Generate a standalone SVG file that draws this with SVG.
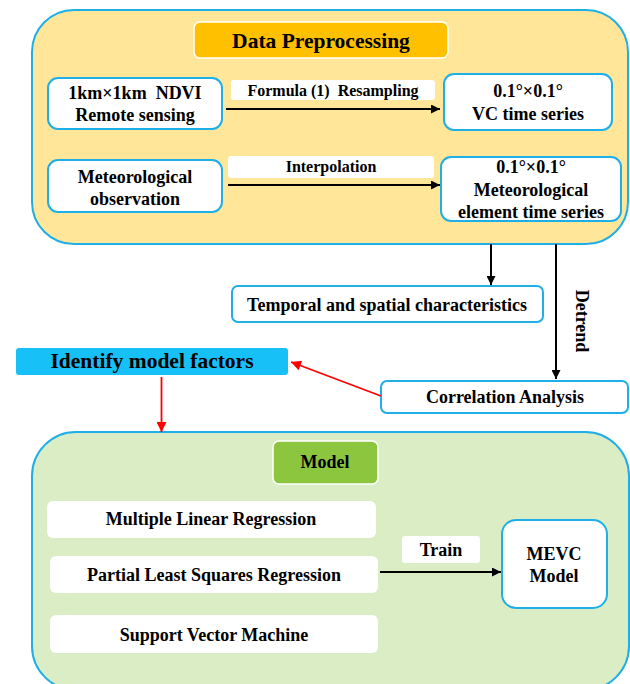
<svg xmlns="http://www.w3.org/2000/svg" width="630" height="684" viewBox="0 0 630 684">
<defs>
<marker id="ab" viewBox="0 0 10 10" refX="10" refY="5" markerWidth="10" markerHeight="9" markerUnits="userSpaceOnUse" orient="auto"><path d="M0,0 L10,5 L0,10 z" fill="#000"/></marker>
<marker id="ar" viewBox="0 0 10 10" refX="10" refY="5" markerWidth="11" markerHeight="10" markerUnits="userSpaceOnUse" orient="auto"><path d="M0,0 L10,5 L0,10 z" fill="#FF0000"/></marker>
<style>
.t{font-family:"Liberation Serif","Times New Roman",serif;font-weight:bold;fill:#000;text-anchor:middle}
.n{font-size:18px}
.l{font-size:16px;white-space:pre}
.h{font-size:21.5px}
.box{fill:#fff;stroke:#1EAEE8;stroke-width:2}
.lab{fill:#fff;stroke:none}
.c{stroke:#000;stroke-width:2;fill:none}
.r{stroke:#FF0000;stroke-width:1.8;fill:none}
</style>
</defs>

<g id="preprocessing">
<rect x="32" y="10" width="596" height="234" rx="42" fill="#FFE699" stroke="#1EAEE8" stroke-width="2"/>
</g>
<g id="data-preprocessing-title">
<rect x="194" y="22" width="254" height="36" rx="6" fill="#FFC000" stroke="#fff" stroke-width="1.5"/>
<text class="t h" x="321" y="48">Data Preprocessing</text>
</g>
<g id="ndvi">
<rect class="box" x="48" y="78" width="174" height="51" rx="10"/>
<text class="t n" x="135" y="99" style="white-space:pre">1km×1km  NDVI</text>
<text class="t n" x="135" y="121">Remote sensing</text>
</g>
<g id="vc">
<rect class="box" x="444" y="74" width="168" height="56" rx="10"/>
<text class="t n" x="528" y="97">0.1°×0.1°</text>
<text class="t n" x="528" y="120">VC time series</text>
</g>
<g id="met-obs">
<rect class="box" x="48" y="160" width="174" height="52" rx="10"/>
<text class="t n" x="135" y="183">Meteorological</text>
<text class="t n" x="135" y="205">observation</text>
</g>
<g id="met-element">
<rect class="box" x="441" y="157" width="180" height="64" rx="10"/>
<text class="t n" x="531" y="173">0.1°×0.1°</text>
<text class="t n" x="531" y="196">Meteorological</text>
<text class="t n" x="531" y="218">element time series</text>
</g>
<g id="temporal">
<rect class="box" x="232" y="286" width="311" height="36" rx="6"/>
<text class="t n" x="387" y="311">Temporal and spatial characteristics</text>
</g>
<g id="identify">
<rect x="16" y="348" width="272" height="27" rx="3" fill="#17C0F6"/>
<text class="t h" x="152" y="368">Identify model factors</text>
</g>
<g id="correlation">
<rect class="box" x="381" y="381" width="247" height="32" rx="6"/>
<text class="t n" x="505" y="403">Correlation Analysis</text>
</g>

<g id="model-container">
<rect x="32" y="432" width="597" height="258" rx="44" fill="#DAEDC4" stroke="#1EAEE8" stroke-width="2"/>
</g>
<g id="model-title">
<rect x="273" y="441" width="105" height="43" rx="6" fill="#8CC63F" stroke="#fff" stroke-width="1.5"/>
<text class="t n" x="325" y="468">Model</text>
</g>
<g id="mlr">
<rect x="47" y="501" width="329" height="37" rx="6" fill="#fff"/>
<text class="t n" x="211" y="525">Multiple Linear Regression</text>
</g>
<g id="plsr">
<rect x="50" y="556" width="328" height="37" rx="6" fill="#fff"/>
<text class="t n" x="214" y="581">Partial Least Squares Regression</text>
</g>
<g id="svm">
<rect x="50" y="615" width="328" height="38" rx="6" fill="#fff"/>
<text class="t n" x="214" y="641">Support Vector Machine</text>
</g>
<g id="mevc">
<rect class="box" x="502" y="520" width="105" height="88" rx="14"/>
<text class="t n" x="554" y="560">MEVC</text>
<text class="t n" x="554" y="582">Model</text>
</g>

<g id="connectors">
<rect class="lab" x="231" y="80" width="204" height="20" rx="3"/>
<text class="t l" x="333" y="96">Formula (1)  Resampling</text>
<line class="c" x1="226" y1="109" x2="440" y2="109" marker-end="url(#ab)"/>
<rect class="lab" x="228" y="156" width="206" height="22" rx="3"/>
<text class="t l" x="331" y="172">Interpolation</text>
<line class="c" x1="228" y1="185" x2="440" y2="185" marker-end="url(#ab)"/>
<line class="c" x1="491" y1="244" x2="491" y2="285" stroke-width="1.8" marker-end="url(#ab)"/>
<line class="c" x1="556" y1="244" x2="556" y2="379" stroke-width="1.8" marker-end="url(#ab)"/>
<text class="t n" transform="translate(576,321) rotate(90)">Detrend</text>
<line class="r" x1="381" y1="396" x2="291" y2="362" marker-end="url(#ar)"/>
<line class="r" x1="161.5" y1="377" x2="161.5" y2="432" marker-end="url(#ar)"/>
<rect class="lab" x="402" y="536" width="78" height="27" rx="3"/>
<text class="t n" x="441" y="556">Train</text>
<line class="c" x1="380" y1="572" x2="501" y2="572" stroke-width="2.2" marker-end="url(#ab)"/>
</g>
</svg>
